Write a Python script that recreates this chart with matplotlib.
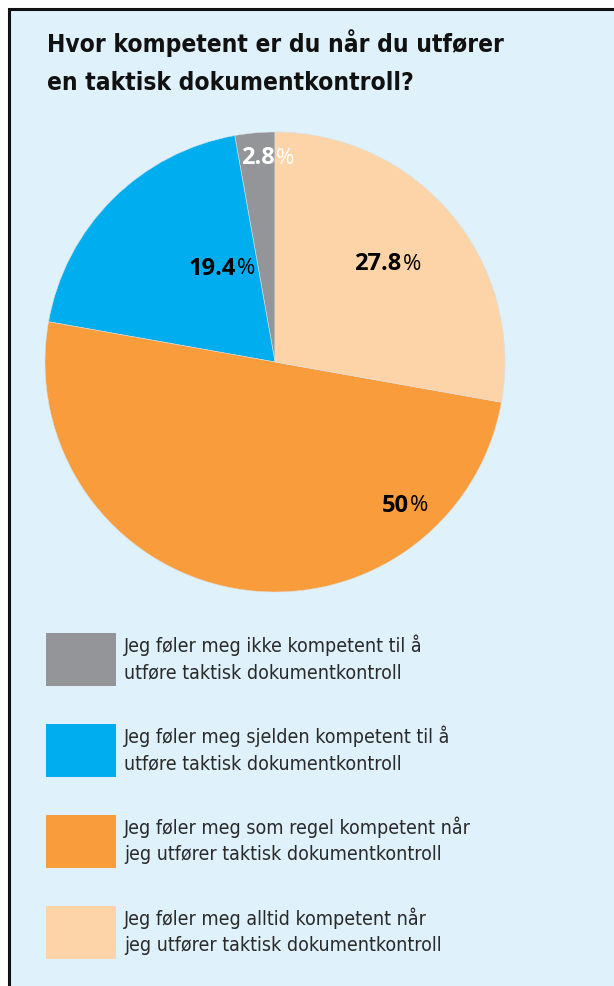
import numpy as np
import matplotlib.pyplot as plt
from matplotlib.patches import Rectangle, Patch

# data (legend order, drawn counter-clockwise from 12 o'clock)
labels = ['Jeg føler meg ikke kompetent til å\nutføre taktisk dokumentkontroll',
          'Jeg føler meg sjelden kompetent til å\nutføre taktisk dokumentkontroll',
          'Jeg føler meg som regel kompetent når\njeg utfører taktisk dokumentkontroll',
          'Jeg føler meg alltid kompetent når\njeg utfører taktisk dokumentkontroll']
values = [2.8, 19.4, 50, 27.8]
value_text = ['2.8', '19.4', '50', '27.8']
colors = ['#939598', '#00AEEF', '#F99D3C', '#FDD4A8']
text_colors = ['white', 'black', 'black', 'black']
# where the number / % split sits, in pie radius units
label_xy = [(0.0, 0.89), (-0.17, 0.41), (0.58, -0.62), (0.55, 0.43)]

title = 'Hvor kompetent er du når du utfører\nen taktisk dokumentkontroll?'

W, H = 614, 987
plt.rcParams['font.family'] = ['DejaVu Sans']
plt.rcParams['font.stretch'] = 'condensed'
fig = plt.figure(figsize=(W / 100, H / 100), dpi=100)
fig.patch.set_facecolor('white')

# light blue panel with black border on top and left
panel = Rectangle((9 / W, -0.1), 1.2, 1 - 10 / H + 0.1,
                  transform=fig.transFigure, facecolor='#DFF1FB',
                  edgecolor='#111111', linewidth=2.2, zorder=-10)
fig.patches.append(panel)

fig.text(47 / W, 1 - 29 / H, title, fontsize=17.6, fontweight='bold',
         va='top', ha='left', color='#111111', linespacing=1.72)

# pie axes: centre (275, 363), radius 230 px
cx, cy, r = 275, 363, 230
ax = fig.add_axes([(cx - r) / W, 1 - (cy + r) / H, 2 * r / W, 2 * r / H])
ax.set_facecolor('none')
wedges, _ = ax.pie(values, colors=colors, startangle=90, counterclock=True,
                   radius=1, wedgeprops=dict(linewidth=0.4, edgecolor='#dddddd'))
ax.set_xlim(-1, 1)
ax.set_ylim(-1, 1)
ax.set_aspect('equal')
ax.axis('off')

for (x, y), t, c in zip(label_xy, value_text, text_colors):
    ax.text(x, y, t, ha='right', va='center', fontsize=17, fontweight='bold',
            color=c, family=['Open Sans', 'DejaVu Sans'], fontstretch='normal')
    ax.text(x + 0.005, y, '%', ha='left', va='center', fontsize=16,
            color=c, family=['Open Sans', 'DejaVu Sans'], fontstretch='normal')

handles = [Patch(facecolor=c, edgecolor='none') for c in colors]
fs = 14
px = fs * 100 / 72
# legend handle height = fs * (0.65 * hh + 0.245) in points
box_h = 53 * 0.72 / fs
hh = (box_h - 0.245) / 0.65
leg = fig.legend(handles, labels, loc='upper left',
                 bbox_to_anchor=(46 / W, 1 - 634 / H), frameon=False,
                 fontsize=fs, handlelength=70 / px, handleheight=hh,
                 handletextpad=8 / px, labelspacing=38 / px, borderpad=0,
                 borderaxespad=0)
for t in leg.get_texts():
    t.set_color('#2a2a2a')
    t.set_linespacing(1.45)

fig.savefig('out.png', dpi=100, facecolor=fig.get_facecolor())
